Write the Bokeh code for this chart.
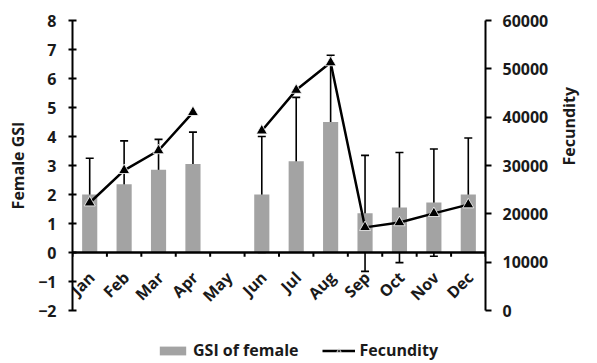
import math
from bokeh.plotting import figure
from bokeh.layouts import column
from bokeh.models import (Range1d, LinearAxis, FixedTicker, ColumnDataSource,
                          Whisker, TeeHead, Legend, LegendItem, Span)
from bokeh.core.properties import value
from bokeh.embed import file_html
from bokeh.resources import INLINE

# ---------------- data ----------------
months = ["Jan", "Feb", "Mar", "Apr", "May", "Jun",
          "Jul", "Aug", "Sep", "Oct", "Nov", "Dec"]
gsi = [2.0, 2.35, 2.85, 3.05, None, 2.0, 3.15, 4.5, 1.35, 1.55, 1.72, 2.0]
gsi_sd = [1.25, 1.5, 1.05, 1.1, None, 2.0, 2.2, 2.3, 2.0, 1.9, 1.85, 1.95]
fecundity = [22300, 29000, 33100, 41000, None, 37200, 45600, 51300,
             17200, 18200, 20100, 21900]
gsi_ticks = list(range(-2, 9))
fec_ticks = list(range(0, 60001, 10000))

FONT = "Open Sans"
TXT = "#1a1a1a"
BAR = "#a3a3a3"
NAN = float("nan")

xs = list(range(1, len(months) + 1))
bx, btop, bup, blo = [], [], [], []
for xi, g, s in zip(xs, gsi, gsi_sd):
    if g is not None:
        bx.append(xi); btop.append(g); bup.append(g + s); blo.append(g - s)
bar_src = ColumnDataSource(dict(x=bx, top=btop, upper=bup, lower=blo))
fec_src = ColumnDataSource(dict(x=xs, y=[f if f is not None else NAN for f in fecundity]))
lab_src = ColumnDataSource(dict(x=xs, y=[0] * len(xs), text=months))
bounds = [i + 0.5 for i in range(len(months) + 1)]
tick_src = ColumnDataSource(dict(x=bounds, y0=[0] * len(bounds), y1=[-0.15] * len(bounds)))

p = figure(width=597, height=322, x_range=Range1d(0.5, len(months) + 0.5),
           y_range=Range1d(gsi_ticks[0], gsi_ticks[-1]), x_axis_location=None,
           output_backend="svg", toolbar_location=None,
           min_border_left=72, min_border_right=112, min_border_top=20, min_border_bottom=12)
p.extra_y_ranges = {"fec": Range1d(fec_ticks[0], fec_ticks[-1])}
p.grid.visible = False
p.outline_line_color = None
p.background_fill_color = "white"

# bars
bars = p.vbar(x="x", top="top", bottom=0, width=0.44, source=bar_src,
              fill_color=BAR, line_color=None)
# error bars
wh = Whisker(base="x", upper="upper", lower="lower", source=bar_src,
             line_color="black", line_width=1.6,
             upper_head=TeeHead(size=8, line_color="black", line_width=1.6),
             lower_head=TeeHead(size=8, line_color="black", line_width=1.6))
p.add_layout(wh)

# x axis line at y = 0 with ticks between months
p.add_layout(Span(location=0, dimension="width", line_color="black", line_width=2.5))
p.segment(x0="x", y0="y0", x1="x", y1="y1", source=tick_src, line_color="black", line_width=2)

# fecundity line
ln = p.line(x="x", y="y", source=fec_src, y_range_name="fec", line_color="black", line_width=2.5)
sc = p.scatter(x="x", y="y", source=fec_src, y_range_name="fec", marker="triangle", size=11,
               fill_color="black", line_color="white", line_width=0.8)

# left axis
ya = p.yaxis[0]
ya.ticker = FixedTicker(ticks=gsi_ticks)
ya.axis_label = "Female GSI"
ya.axis_line_width = 2
ya.major_tick_in = 4
ya.major_tick_out = 4
ya.major_tick_line_width = 2
ya.minor_tick_line_color = None
ya.major_label_standoff = 12
ya.axis_label_standoff = 6

# right axis
ra = LinearAxis(y_range_name="fec", ticker=FixedTicker(ticks=fec_ticks), axis_label="Fecundity")
ra.axis_line_width = 2
ra.major_tick_in = 0
ra.major_tick_out = 6
ra.major_tick_line_width = 2
ra.minor_tick_line_color = None
ra.major_label_standoff = 11
ra.axis_label_standoff = 18
ra.axis_label_orientation = math.pi / 2
p.add_layout(ra, "right")

for ax in (ya, ra):
    ax.major_label_text_font = FONT
    ax.major_label_text_font_style = "bold"
    ax.major_label_text_font_size = "16px"
    ax.major_label_text_color = TXT
    ax.axis_label_text_font = FONT
    ax.axis_label_text_font_style = "bold"
    ax.axis_label_text_font_size = "16px"
    ax.axis_label_text_color = TXT

# month labels
p.text(x="x", y="y", text="text", source=lab_src, angle=math.pi / 4,
       text_align="right", text_baseline="middle", y_offset=22, x_offset=2,
       text_font=value(FONT), text_font_style="bold", text_font_size="16px",
       text_color=TXT)

# ---------------- legend strip ----------------
lf = figure(width=597, height=41, x_range=Range1d(0, 1), y_range=Range1d(0, 1),
            x_axis_location=None, y_axis_location=None,
            output_backend="svg", toolbar_location=None,
            min_border_left=0, min_border_right=0, min_border_top=0, min_border_bottom=0)
lf.grid.visible = False
lf.outline_line_color = None
empty = dict(x=[NAN], y=[NAN], top=[NAN])
lb = lf.vbar(x="x", top="top", width=0.1, source=ColumnDataSource(empty), fill_color=BAR, line_color=None)
ll = lf.line(x="x", y="y", source=ColumnDataSource(empty), line_color="black", line_width=2.5)
ls = lf.scatter(x="x", y="y", source=ColumnDataSource(empty), marker="triangle", size=11,
                fill_color="black", line_color="white", line_width=0.8)

legend = Legend(items=[LegendItem(label="GSI of female", renderers=[lb]),
                       LegendItem(label="Fecundity", renderers=[ll, ls])],
                location=(84, 2), orientation="horizontal")
legend.glyph_width = 33
legend.glyph_height = 11
legend.label_height = 11
legend.label_standoff = 4
legend.spacing = 24
legend.padding = 0
legend.margin = 0
legend.border_line_color = None
legend.background_fill_alpha = 0
legend.label_text_font = FONT
legend.label_text_font_style = "bold"
legend.label_text_font_size = "16px"
legend.label_text_color = TXT
legend.label_text_baseline = "middle"
lf.add_layout(legend)

layout = column(p, lf, spacing=0)
open("out.html", "w").write(file_html(layout, INLINE))
